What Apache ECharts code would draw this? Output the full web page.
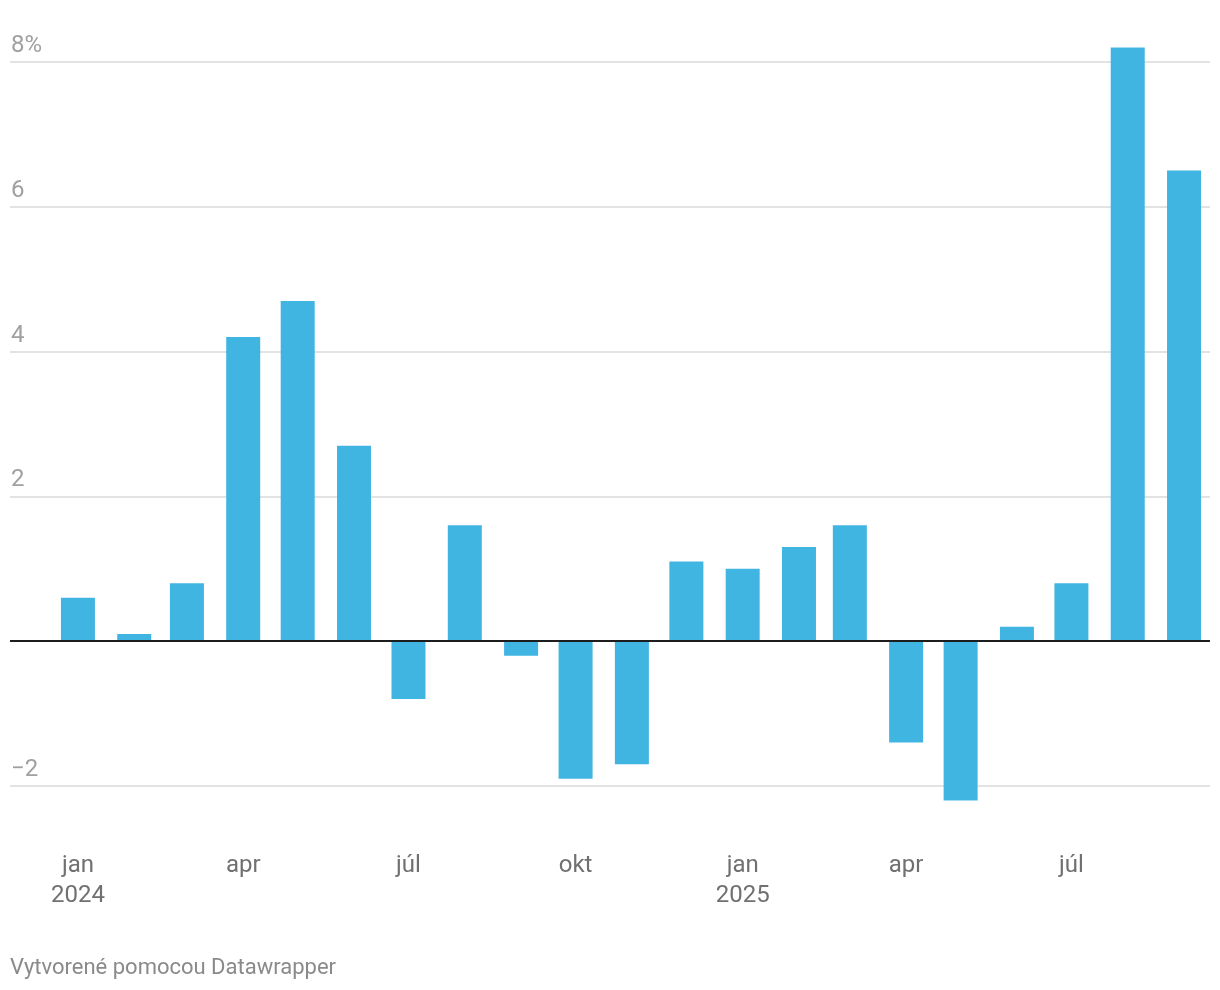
<!DOCTYPE html>
<html>
<head>
<meta charset="utf-8">
<script src="https://cdn.jsdelivr.net/npm/echarts@6/dist/echarts.min.js"></script>
<style>
  html, body { margin: 0; padding: 0; background: #ffffff; }
  #chart { width: 1220px; height: 990px; }
</style>
</head>
<body>
<div id="chart"></div>
<script>
// ---- data ----
const months = ['2024-01-01','2024-02-01','2024-03-01','2024-04-01','2024-05-01','2024-06-01',
  '2024-07-01','2024-08-01','2024-09-01','2024-10-01','2024-11-01','2024-12-01',
  '2025-01-01','2025-02-01','2025-03-01','2025-04-01','2025-05-01','2025-06-01',
  '2025-07-01','2025-08-01','2025-09-01'];
const values = [0.6, 0.1, 0.8, 4.2, 4.7, 2.7, -0.8, 1.6, -0.2, -1.9, -1.7, 1.1,
  1.0, 1.3, 1.6, -1.4, -2.2, 0.2, 0.8, 8.2, 6.5];
const tickDates = ['2024-01-01','2024-04-01','2024-07-01','2024-10-01','2025-01-01','2025-04-01','2025-07-01'];
const tickLabels = ['jan\n2024','apr','júl','okt','jan\n2025','apr','júl'];
const footerText = 'Vytvorené pomocou Datawrapper';

function ts(s) {
  const p = s.split('-').map(Number);
  return Date.UTC(p[0], p[1] - 1, p[2]);
}
const DAY = 86400000;
const tickTs = tickDates.map(ts);
const seriesData = months.map((m, i) => [ts(m), values[i]]);

const chart = echarts.init(document.getElementById('chart'), null, { renderer: 'canvas' });
chart.setOption({
  animation: false,
  backgroundColor: '#ffffff',
  textStyle: { fontFamily: 'Roboto' },
  title: {
    text: footerText,
    left: 10,
    top: 957,
    padding: 0,
    textStyle: { fontFamily: 'Roboto', fontSize: 22, fontWeight: 'normal', color: '#8a8a8a' }
  },
  grid: { left: 10, right: 10, top: 62, bottom: 204, containLabel: false },
  xAxis: {
    type: 'value',
    min: ts('2023-11-24') + 0.6 * DAY,
    max: ts('2025-09-15') + 0.3 * DAY,
    axisLine: { show: false },
    axisTick: { show: false },
    splitLine: { show: false },
    axisLabel: {
      customValues: tickTs,
      margin: 65,
      fontFamily: 'Roboto',
      fontSize: 24,
      lineHeight: 30,
      color: '#707070',
      align: 'center',
      formatter: function (v) {
        const i = tickTs.indexOf(v);
        return i >= 0 ? tickLabels[i] : '';
      }
    }
  },
  yAxis: {
    type: 'value',
    min: -2,
    max: 8,
    interval: 2,
    axisLine: { show: false },
    axisTick: { show: false },
    splitLine: { show: true, lineStyle: { color: '#e3e3e3', width: 2 } },
    axisLabel: {
      inside: true,
      margin: 1,
      fontFamily: 'Roboto',
      fontSize: 24,
      lineHeight: 24,
      color: '#a0a0a0',
      verticalAlign: 'bottom',
      padding: [0, 0, 4, 0],
      formatter: function (v) {
        if (v === 0) return '';
        if (v === 8) return '8%';
        if (v < 0) return '\u2212' + Math.abs(v);
        return String(v);
      }
    }
  },
  series: [{
    type: 'bar',
    data: seriesData,
    barWidth: 34,
    clip: false,
    itemStyle: { color: '#40b5e2' },
    markLine: {
      silent: true,
      symbol: ['none', 'none'],
      label: { show: false },
      lineStyle: { color: '#1d1d1d', width: 2, type: 'solid' },
      data: [{ yAxis: 0 }]
    }
  }]
});
</script>
</body>
</html>
